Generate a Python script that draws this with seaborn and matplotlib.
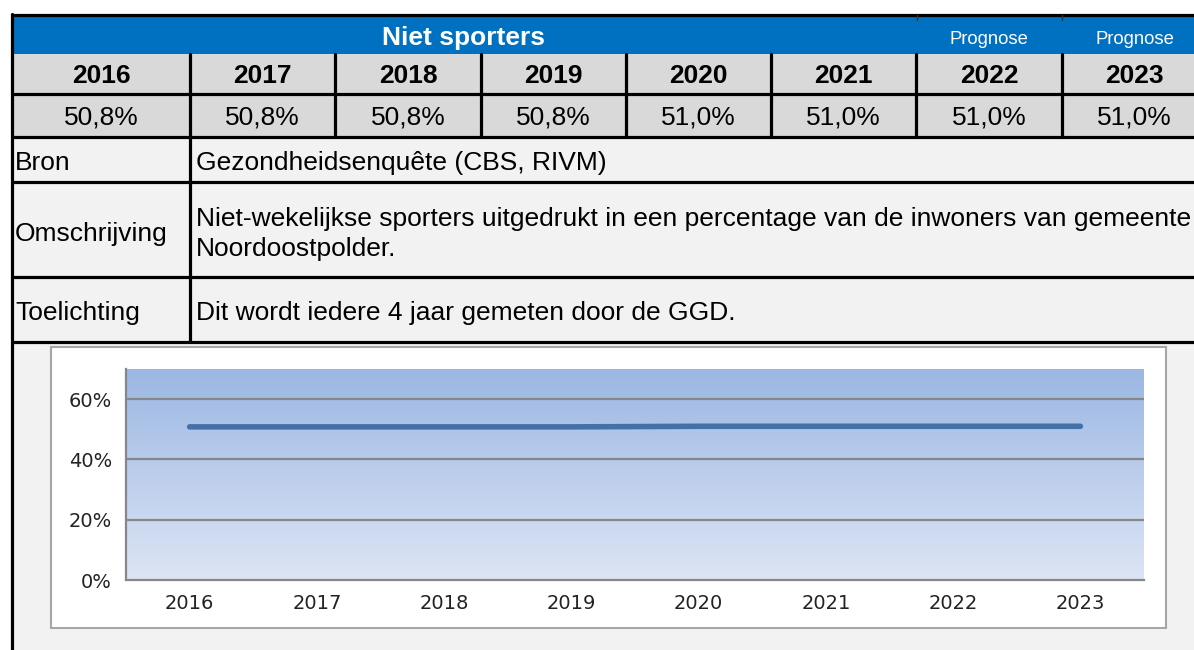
import numpy as np
import matplotlib
matplotlib.use("Agg")
import matplotlib.pyplot as plt
import matplotlib.patches as mpatches
import seaborn as sns

# data
years = [2016, 2017, 2018, 2019, 2020, 2021, 2022, 2023]
values = [50.8, 50.8, 50.8, 50.8, 51.0, 51.0, 51.0, 51.0]
prognose_years = [2022, 2023]
title = "Niet sporters"
row_labels = ["Bron", "Omschrijving", "Toelichting"]
row_texts = ["Gezondheidsenquête (CBS, RIVM)",
             "Niet-wekelijkse sporters uitgedrukt in een percentage van de inwoners van gemeente\nNoordoostpolder.",
             "Dit wordt iedere 4 jaar gemeten door de GGD."]
y_ticks = [0, 20, 40, 60]

sns.set_theme(style="white")
plt.rcParams['font.family'] = ['Liberation Sans', 'DejaVu Sans']

W, H = 1194, 650
fig = plt.figure(figsize=(W / 100, H / 100), dpi=100)
fig.patch.set_facecolor("white")

# table drawn in pixel coordinates
tab = fig.add_axes([0, 0, 1, 1])
tab.set_xlim(0, W)
tab.set_ylim(H, 0)
tab.axis("off")

blue = "#0070C0"
grey = "#D9D9D9"
light = "#F2F2F2"
lw = 2.3
fs = 19

col_edges = [12, 190, 335, 481, 626, 771, 916, 1062, 1207]

def rect(x0, y0, x1, y1, color):
    tab.add_patch(mpatches.Rectangle((x0, y0), x1 - x0, y1 - y0, color=color, lw=0, zorder=1))

# backgrounds
rect(12, 15, W, 54, blue)
rect(12, 54, W, 137, grey)
rect(12, 137, W, H, light)

# header texts
tab.text((12 + 916) / 2, 38, title, color="white", fontsize=fs, fontweight="bold",
         ha="center", va="center", zorder=3)
for i, yr in enumerate(years):
    cx = (col_edges[i] + col_edges[i + 1]) / 2
    if yr in prognose_years:
        tab.text(cx, 39, "Prognose", color="white", fontsize=13.3, ha="center", va="center", zorder=3)
    tab.text(cx, 76, str(yr), color="black", fontsize=fs, fontweight="bold",
             ha="center", va="center", zorder=3)
    tab.text(cx, 118, f"{values[i]:.1f}%".replace(".", ","), color="black", fontsize=fs,
             ha="center", va="center", zorder=3)

# grid lines of the table
for y in [15, 94, 137, 182, 277, 342]:
    tab.plot([11, W], [y, y], color="black", lw=lw, zorder=2, solid_capstyle="butt")
tab.plot([11.5, 11.5], [14, H], color="black", lw=lw, zorder=2)
for x in col_edges[1:-1]:
    tab.plot([x, x], [54, 137], color="black", lw=lw, zorder=2)
for x in [917, 1062]:
    tab.plot([x, x], [15, 20], color="#333333", lw=1, zorder=2)
tab.plot([190, 190], [137, 342], color="black", lw=lw, zorder=2)

# info rows
row_y = [163, 234, 313]
for lab, txt, y in zip(row_labels, row_texts, row_y):
    tab.text(15, y, lab, fontsize=fs, ha="left", va="center", color="black", zorder=3)
    tab.text(196, y, txt, fontsize=fs, ha="left", va="center", color="black", zorder=3,
             linespacing=1.35, clip_on=True)

# white chart box
tab.add_patch(mpatches.Rectangle((51, 347), 1166 - 51, 628 - 347, facecolor="white",
                                 edgecolor="#A6A6A6", lw=1.5, zorder=2))

# chart
px_l, px_r, px_t, px_b = 126, 1144, 369, 580
ax = fig.add_axes([px_l / W, (H - px_b) / H, (px_r - px_l) / W, (px_b - px_t) / H])
ax.set_xlim(years[0] - 0.5, years[-1] + 0.5)
ax.set_ylim(0, 70)

grad = np.linspace(0, 1, 256).reshape(-1, 1)
top = np.array([155, 183, 227]) / 255
bot = np.array([221, 229, 245]) / 255
img = top[None, None, :] * (1 - grad[:, :, None]) + bot[None, None, :] * grad[:, :, None]
ax.imshow(img, extent=[years[0] - 0.5, years[-1] + 0.5, 0, 70], aspect="auto", zorder=0)

for t in y_ticks[1:]:
    ax.axhline(t, color="#878787", lw=1.6, zorder=1)

sns.lineplot(x=years, y=values, ax=ax, color="#4470A8", lw=4, zorder=3)

ax.set_xticks(years)
ax.set_xticklabels([str(y) for y in years])
ax.set_yticks(y_ticks)
ax.set_yticklabels([f"{t}%" for t in y_ticks])
ax.tick_params(axis="both", length=0, labelsize=14, colors="#222222", pad=10)
ax.tick_params(axis="x", pad=10)
for lab in ax.get_xticklabels() + ax.get_yticklabels():
    lab.set_fontfamily("DejaVu Sans")
for s in ["top", "right"]:
    ax.spines[s].set_visible(False)
for s in ["left", "bottom"]:
    ax.spines[s].set_color("#878787")
    ax.spines[s].set_linewidth(1.6)
ax.grid(False)

fig.savefig("out.png", dpi=100)
